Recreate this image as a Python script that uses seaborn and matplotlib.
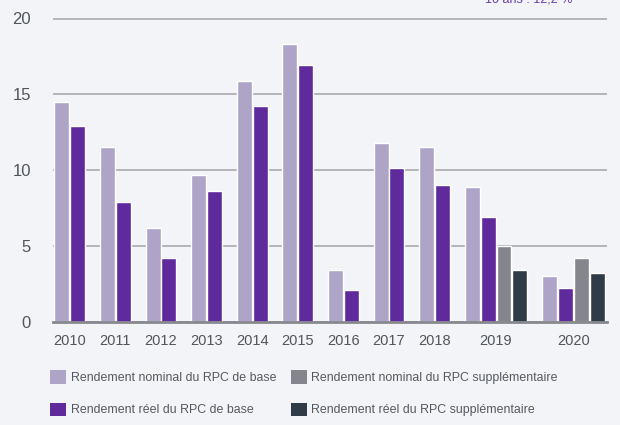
import numpy as np
import pandas as pd
import seaborn as sns
import matplotlib.pyplot as plt
from matplotlib.patches import Patch

# valeurs (en %)
years = ["2010", "2011", "2012", "2013", "2014", "2015", "2016", "2017", "2018", "2019", "2020"]
nominal_base = [14.5, 11.5, 6.2, 9.7, 15.9, 18.3, 3.4, 11.8, 11.5, 8.9, 3.0]
real_base = [12.9, 7.9, 4.2, 8.6, 14.2, 16.9, 2.1, 10.1, 9.0, 6.9, 2.2]
nominal_supp = [np.nan] * 9 + [5.0, 4.2]
real_supp = [np.nan] * 9 + [3.4, 3.2]

series = ["Rendement nominal du RPC de base", "Rendement réel du RPC de base",
          "Rendement nominal du RPC supplémentaire", "Rendement réel du RPC supplémentaire"]
colors = ["#ada4c8", "#5e2a9c", "#85868d", "#2f3c47"]
bg = "#f3f4f8"

# table longue: une ligne par barre, position selon le nombre de barres du groupe
gap = 0.875
rows = []
centers = []
start = 0.0
for i, y in enumerate(years):
    vals = [nominal_base[i], real_base[i], nominal_supp[i], real_supp[i]]
    n = 0
    for s, v in zip(series, vals):
        if not np.isnan(v):
            rows.append({"pos": start + n + 0.5, "value": v, "series": s})
            n += 1
    centers.append(start + n / 2)
    start += n + gap
df = pd.DataFrame(rows)

sns.set_theme(style="white", rc={"axes.facecolor": bg, "figure.facecolor": bg})
plt.rcParams["font.family"] = ["Liberation Sans", "DejaVu Sans"]

fig = plt.figure(figsize=(6.2, 4.25), dpi=100)
ax = fig.add_axes([53 / 620, 1 - 321.5 / 425, 554 / 620, 20.25 * 15.15 / 425])

sns.barplot(data=df, x="pos", y="value", hue="series", hue_order=series,
            palette=colors, native_scale=True, dodge=False, width=0.94,
            saturation=1, legend=False, ax=ax)

ax.set_ylim(0, 20.25)
ax.set_xlim(-0.06, start - gap + 0.12)
ax.set_yticks([0, 5, 10, 15, 20])
ax.set_yticklabels(["0", "5", "10", "15", "20"])
ax.set_xticks(centers)
ax.set_xticklabels(years)
ax.tick_params(axis="y", length=0, pad=16, labelsize=12, labelcolor="#50555b")
ax.tick_params(axis="x", length=0, pad=9, labelsize=10.5, labelcolor="#50555b")
ax.set_xlabel("")
ax.set_ylabel("")
ax.yaxis.grid(True, color="#a9a9ae", linewidth=1.2)
ax.set_axisbelow(True)
for side in ["top", "left", "right"]:
    ax.spines[side].set_visible(False)
ax.spines["bottom"].set_color("#88898f")
ax.spines["bottom"].set_linewidth(2)

# la legende se remplit colonne par colonne: base a gauche, supplementaire a droite
handles = [Patch(facecolor=c, edgecolor="none") for c in colors]
fig.legend(handles, series, ncol=2,
           loc="upper left", bbox_to_anchor=(39 / 620, 1 - 359 / 425), frameon=False,
           fontsize=8.9, labelcolor="#555a60", handlelength=1.3, handleheight=1.3,
           handletextpad=0.35, columnspacing=1.2, labelspacing=1.5)

# texte en haut a droite, coupe par le bord de la figure
fig.text(572 / 620, 1 - 2.5 / 425, "10 ans : 12,2 %", ha="right", va="baseline",
         fontsize=9, color="#6a3aa8")

fig.savefig("out.png", dpi=100, facecolor=bg)
